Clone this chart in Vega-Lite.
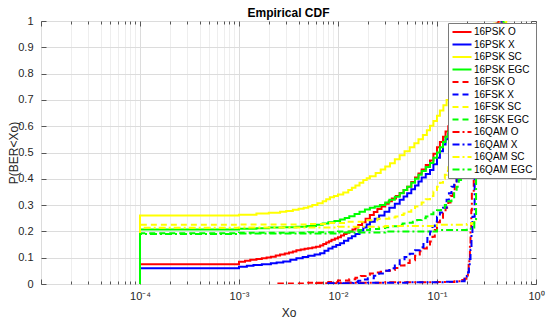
{
  "$schema": "https://vega.github.io/schema/vega-lite/v6.json",
  "width": 495,
  "height": 263,
  "autosize": {"type": "none"},
  "padding": {"left": 41, "top": 21, "right": 14, "bottom": 38},
  "background": "white",
  "title": {"text": "Empirical CDF", "fontSize": 12, "fontWeight": "bold", "font": "Liberation Sans", "color": "#000000", "offset": -5},
  "config": {
    "view": {"stroke": "#7a7a7a", "strokeWidth": 1},
    "font": "Liberation Sans",
    "legend": {
      "orient": "none", "legendX": 407, "legendY": 2,
      "fillColor": "white", "strokeColor": "#7a7a7a", "padding": 3,
      "symbolType": "M-1.9,0H1.9", "symbolSize": 100, "symbolStrokeWidth": 2, "symbolOffset": 5,
      "labelFontSize": 10, "labelFont": "Liberation Sans", "labelColor": "#000000",
      "rowPadding": 1.5, "labelOffset": 6, "titlePadding": 0
    }
  },
  "layer": [
    {
      "data": {"values": [
        {"s":"16PSK O","x":0.0001,"y":0},{"s":"16PSK O","x":0.0001,"y":0.075},{"s":"16PSK O","x":0.001,"y":0.085},{"s":"16PSK O","x":0.00115,"y":0.088},{"s":"16PSK O","x":0.0013,"y":0.092},{"s":"16PSK O","x":0.0015,"y":0.095},{"s":"16PSK O","x":0.0017,"y":0.098},{"s":"16PSK O","x":0.0019,"y":0.101},{"s":"16PSK O","x":0.0021,"y":0.104},{"s":"16PSK O","x":0.00235,"y":0.108},{"s":"16PSK O","x":0.0026,"y":0.112},{"s":"16PSK O","x":0.0029,"y":0.116},{"s":"16PSK O","x":0.0032,"y":0.12},{"s":"16PSK O","x":0.0035,"y":0.124},{"s":"16PSK O","x":0.0038,"y":0.128},{"s":"16PSK O","x":0.0042,"y":0.131},{"s":"16PSK O","x":0.0046,"y":0.134},{"s":"16PSK O","x":0.005,"y":0.136},{"s":"16PSK O","x":0.0055,"y":0.139},{"s":"16PSK O","x":0.006,"y":0.142},{"s":"16PSK O","x":0.0066,"y":0.146},{"s":"16PSK O","x":0.0071,"y":0.152},{"s":"16PSK O","x":0.0076,"y":0.158},{"s":"16PSK O","x":0.0081,"y":0.163},{"s":"16PSK O","x":0.0086,"y":0.168},{"s":"16PSK O","x":0.0093,"y":0.173},{"s":"16PSK O","x":0.01,"y":0.178},{"s":"16PSK O","x":0.0107,"y":0.184},{"s":"16PSK O","x":0.0115,"y":0.19},{"s":"16PSK O","x":0.0122,"y":0.195},{"s":"16PSK O","x":0.013,"y":0.2},{"s":"16PSK O","x":0.014,"y":0.207},{"s":"16PSK O","x":0.015,"y":0.215},{"s":"16PSK O","x":0.016,"y":0.224},{"s":"16PSK O","x":0.0175,"y":0.235},{"s":"16PSK O","x":0.019,"y":0.248},{"s":"16PSK O","x":0.021,"y":0.262},{"s":"16PSK O","x":0.023,"y":0.274},{"s":"16PSK O","x":0.025,"y":0.285},{"s":"16PSK O","x":0.0275,"y":0.295},{"s":"16PSK O","x":0.03,"y":0.305},{"s":"16PSK O","x":0.0325,"y":0.315},{"s":"16PSK O","x":0.035,"y":0.325},{"s":"16PSK O","x":0.0385,"y":0.335},{"s":"16PSK O","x":0.042,"y":0.346},{"s":"16PSK O","x":0.046,"y":0.357},{"s":"16PSK O","x":0.05,"y":0.37},{"s":"16PSK O","x":0.055,"y":0.388},{"s":"16PSK O","x":0.06,"y":0.405},{"s":"16PSK O","x":0.065,"y":0.42},{"s":"16PSK O","x":0.07,"y":0.435},{"s":"16PSK O","x":0.077,"y":0.452},{"s":"16PSK O","x":0.085,"y":0.47},{"s":"16PSK O","x":0.092,"y":0.495},{"s":"16PSK O","x":0.1,"y":0.52},{"s":"16PSK O","x":0.107,"y":0.54},{"s":"16PSK O","x":0.115,"y":0.56},{"s":"16PSK O","x":0.122,"y":0.58},{"s":"16PSK O","x":0.13,"y":0.6},{"s":"16PSK O","x":0.16,"y":0.69},{"s":"16PSK O","x":0.2,"y":0.79},{"s":"16PSK O","x":0.25,"y":0.88},{"s":"16PSK O","x":0.3,"y":0.94},{"s":"16PSK O","x":0.36,"y":0.98},{"s":"16PSK O","x":0.42,"y":1.0},

        {"s":"16PSK X","x":0.0001,"y":0},{"s":"16PSK X","x":0.0001,"y":0.06},{"s":"16PSK X","x":0.001,"y":0.066},{"s":"16PSK X","x":0.0012,"y":0.069},{"s":"16PSK X","x":0.0014,"y":0.072},{"s":"16PSK X","x":0.0017,"y":0.075},{"s":"16PSK X","x":0.0021,"y":0.079},{"s":"16PSK X","x":0.0024,"y":0.082},{"s":"16PSK X","x":0.0028,"y":0.086},{"s":"16PSK X","x":0.0033,"y":0.092},{"s":"16PSK X","x":0.0038,"y":0.098},{"s":"16PSK X","x":0.0044,"y":0.103},{"s":"16PSK X","x":0.005,"y":0.107},{"s":"16PSK X","x":0.0058,"y":0.112},{"s":"16PSK X","x":0.0066,"y":0.117},{"s":"16PSK X","x":0.0073,"y":0.126},{"s":"16PSK X","x":0.008,"y":0.135},{"s":"16PSK X","x":0.0088,"y":0.142},{"s":"16PSK X","x":0.0096,"y":0.148},{"s":"16PSK X","x":0.0105,"y":0.155},{"s":"16PSK X","x":0.0115,"y":0.164},{"s":"16PSK X","x":0.0127,"y":0.174},{"s":"16PSK X","x":0.0138,"y":0.182},{"s":"16PSK X","x":0.015,"y":0.19},{"s":"16PSK X","x":0.0165,"y":0.203},{"s":"16PSK X","x":0.018,"y":0.215},{"s":"16PSK X","x":0.0195,"y":0.226},{"s":"16PSK X","x":0.021,"y":0.237},{"s":"16PSK X","x":0.0235,"y":0.248},{"s":"16PSK X","x":0.026,"y":0.26},{"s":"16PSK X","x":0.0295,"y":0.275},{"s":"16PSK X","x":0.033,"y":0.29},{"s":"16PSK X","x":0.0375,"y":0.305},{"s":"16PSK X","x":0.042,"y":0.32},{"s":"16PSK X","x":0.046,"y":0.333},{"s":"16PSK X","x":0.05,"y":0.345},{"s":"16PSK X","x":0.055,"y":0.36},{"s":"16PSK X","x":0.06,"y":0.375},{"s":"16PSK X","x":0.065,"y":0.39},{"s":"16PSK X","x":0.07,"y":0.405},{"s":"16PSK X","x":0.077,"y":0.418},{"s":"16PSK X","x":0.085,"y":0.433},{"s":"16PSK X","x":0.092,"y":0.455},{"s":"16PSK X","x":0.1,"y":0.48},{"s":"16PSK X","x":0.107,"y":0.505},{"s":"16PSK X","x":0.115,"y":0.53},{"s":"16PSK X","x":0.122,"y":0.55},{"s":"16PSK X","x":0.13,"y":0.57},{"s":"16PSK X","x":0.16,"y":0.66},{"s":"16PSK X","x":0.2,"y":0.77},{"s":"16PSK X","x":0.25,"y":0.87},{"s":"16PSK X","x":0.3,"y":0.93},{"s":"16PSK X","x":0.36,"y":0.97},{"s":"16PSK X","x":0.45,"y":1.0},

        {"s":"16PSK SC","x":0.0001,"y":0},{"s":"16PSK SC","x":0.0001,"y":0.26},{"s":"16PSK SC","x":0.001,"y":0.263},{"s":"16PSK SC","x":0.0015,"y":0.268},{"s":"16PSK SC","x":0.002,"y":0.271},{"s":"16PSK SC","x":0.0026,"y":0.275},{"s":"16PSK SC","x":0.003,"y":0.278},{"s":"16PSK SC","x":0.0035,"y":0.282},{"s":"16PSK SC","x":0.004,"y":0.286},{"s":"16PSK SC","x":0.0045,"y":0.29},{"s":"16PSK SC","x":0.005,"y":0.295},{"s":"16PSK SC","x":0.0055,"y":0.3},{"s":"16PSK SC","x":0.0062,"y":0.307},{"s":"16PSK SC","x":0.007,"y":0.315},{"s":"16PSK SC","x":0.0076,"y":0.322},{"s":"16PSK SC","x":0.0083,"y":0.33},{"s":"16PSK SC","x":0.0091,"y":0.335},{"s":"16PSK SC","x":0.01,"y":0.34},{"s":"16PSK SC","x":0.0113,"y":0.348},{"s":"16PSK SC","x":0.0127,"y":0.357},{"s":"16PSK SC","x":0.0138,"y":0.366},{"s":"16PSK SC","x":0.015,"y":0.375},{"s":"16PSK SC","x":0.0165,"y":0.385},{"s":"16PSK SC","x":0.018,"y":0.395},{"s":"16PSK SC","x":0.0195,"y":0.402},{"s":"16PSK SC","x":0.021,"y":0.41},{"s":"16PSK SC","x":0.024,"y":0.422},{"s":"16PSK SC","x":0.027,"y":0.435},{"s":"16PSK SC","x":0.03,"y":0.447},{"s":"16PSK SC","x":0.0335,"y":0.459},{"s":"16PSK SC","x":0.0375,"y":0.474},{"s":"16PSK SC","x":0.042,"y":0.49},{"s":"16PSK SC","x":0.047,"y":0.505},{"s":"16PSK SC","x":0.053,"y":0.52},{"s":"16PSK SC","x":0.059,"y":0.535},{"s":"16PSK SC","x":0.065,"y":0.55},{"s":"16PSK SC","x":0.072,"y":0.567},{"s":"16PSK SC","x":0.079,"y":0.585},{"s":"16PSK SC","x":0.085,"y":0.602},{"s":"16PSK SC","x":0.092,"y":0.62},{"s":"16PSK SC","x":0.1,"y":0.64},{"s":"16PSK SC","x":0.107,"y":0.66},{"s":"16PSK SC","x":0.116,"y":0.68},{"s":"16PSK SC","x":0.125,"y":0.7},{"s":"16PSK SC","x":0.135,"y":0.72},{"s":"16PSK SC","x":0.15,"y":0.76},{"s":"16PSK SC","x":0.19,"y":0.84},{"s":"16PSK SC","x":0.24,"y":0.91},{"s":"16PSK SC","x":0.3,"y":0.96},{"s":"16PSK SC","x":0.38,"y":0.99},{"s":"16PSK SC","x":0.5,"y":1.0},

        {"s":"16PSK EGC","x":0.0001,"y":0},{"s":"16PSK EGC","x":0.0001,"y":0.207},{"s":"16PSK EGC","x":0.001,"y":0.21},{"s":"16PSK EGC","x":0.0015,"y":0.212},{"s":"16PSK EGC","x":0.002,"y":0.215},{"s":"16PSK EGC","x":0.0028,"y":0.216},{"s":"16PSK EGC","x":0.0038,"y":0.218},{"s":"16PSK EGC","x":0.0048,"y":0.221},{"s":"16PSK EGC","x":0.006,"y":0.225},{"s":"16PSK EGC","x":0.007,"y":0.23},{"s":"16PSK EGC","x":0.008,"y":0.235},{"s":"16PSK EGC","x":0.0092,"y":0.24},{"s":"16PSK EGC","x":0.0105,"y":0.245},{"s":"16PSK EGC","x":0.0117,"y":0.251},{"s":"16PSK EGC","x":0.013,"y":0.258},{"s":"16PSK EGC","x":0.0147,"y":0.266},{"s":"16PSK EGC","x":0.0165,"y":0.275},{"s":"16PSK EGC","x":0.0187,"y":0.283},{"s":"16PSK EGC","x":0.021,"y":0.29},{"s":"16PSK EGC","x":0.0235,"y":0.295},{"s":"16PSK EGC","x":0.0265,"y":0.3},{"s":"16PSK EGC","x":0.03,"y":0.31},{"s":"16PSK EGC","x":0.033,"y":0.32},{"s":"16PSK EGC","x":0.0375,"y":0.332},{"s":"16PSK EGC","x":0.042,"y":0.345},{"s":"16PSK EGC","x":0.046,"y":0.357},{"s":"16PSK EGC","x":0.05,"y":0.37},{"s":"16PSK EGC","x":0.055,"y":0.385},{"s":"16PSK EGC","x":0.06,"y":0.4},{"s":"16PSK EGC","x":0.065,"y":0.415},{"s":"16PSK EGC","x":0.07,"y":0.43},{"s":"16PSK EGC","x":0.077,"y":0.445},{"s":"16PSK EGC","x":0.085,"y":0.46},{"s":"16PSK EGC","x":0.092,"y":0.48},{"s":"16PSK EGC","x":0.1,"y":0.5},{"s":"16PSK EGC","x":0.107,"y":0.52},{"s":"16PSK EGC","x":0.115,"y":0.54},{"s":"16PSK EGC","x":0.122,"y":0.56},{"s":"16PSK EGC","x":0.13,"y":0.58},{"s":"16PSK EGC","x":0.16,"y":0.67},{"s":"16PSK EGC","x":0.2,"y":0.78},{"s":"16PSK EGC","x":0.25,"y":0.88},{"s":"16PSK EGC","x":0.3,"y":0.94},{"s":"16PSK EGC","x":0.37,"y":0.98},{"s":"16PSK EGC","x":0.47,"y":1.0},

        {"s":"16FSK O","x":0.0025,"y":0},{"s":"16FSK O","x":0.0025,"y":0.002},{"s":"16FSK O","x":0.005,"y":0.005},{"s":"16FSK O","x":0.008,"y":0.008},{"s":"16FSK O","x":0.01,"y":0.013},{"s":"16FSK O","x":0.013,"y":0.018},{"s":"16FSK O","x":0.015,"y":0.024},{"s":"16FSK O","x":0.017,"y":0.03},{"s":"16FSK O","x":0.019,"y":0.035},{"s":"16FSK O","x":0.021,"y":0.04},{"s":"16FSK O","x":0.024,"y":0.044},{"s":"16FSK O","x":0.027,"y":0.047},{"s":"16FSK O","x":0.03,"y":0.05},{"s":"16FSK O","x":0.0335,"y":0.053},{"s":"16FSK O","x":0.0375,"y":0.061},{"s":"16FSK O","x":0.042,"y":0.07},{"s":"16FSK O","x":0.047,"y":0.08},{"s":"16FSK O","x":0.053,"y":0.09},{"s":"16FSK O","x":0.06,"y":0.107},{"s":"16FSK O","x":0.067,"y":0.125},{"s":"16FSK O","x":0.073,"y":0.135},{"s":"16FSK O","x":0.079,"y":0.145},{"s":"16FSK O","x":0.085,"y":0.162},{"s":"16FSK O","x":0.09,"y":0.18},{"s":"16FSK O","x":0.095,"y":0.205},{"s":"16FSK O","x":0.1,"y":0.235},{"s":"16FSK O","x":0.107,"y":0.252},{"s":"16FSK O","x":0.115,"y":0.27},{"s":"16FSK O","x":0.122,"y":0.29},{"s":"16FSK O","x":0.13,"y":0.31},{"s":"16FSK O","x":0.137,"y":0.335},{"s":"16FSK O","x":0.145,"y":0.36},{"s":"16FSK O","x":0.151,"y":0.38},{"s":"16FSK O","x":0.158,"y":0.4},{"s":"16FSK O","x":0.167,"y":0.43},{"s":"16FSK O","x":0.178,"y":0.46},{"s":"16FSK O","x":0.2,"y":0.54},{"s":"16FSK O","x":0.23,"y":0.65},{"s":"16FSK O","x":0.27,"y":0.78},{"s":"16FSK O","x":0.32,"y":0.9},{"s":"16FSK O","x":0.38,"y":0.97},{"s":"16FSK O","x":0.45,"y":1.0},

        {"s":"16FSK X","x":0.008,"y":0},{"s":"16FSK X","x":0.008,"y":0.002},{"s":"16FSK X","x":0.012,"y":0.005},{"s":"16FSK X","x":0.014,"y":0.008},{"s":"16FSK X","x":0.016,"y":0.012},{"s":"16FSK X","x":0.018,"y":0.017},{"s":"16FSK X","x":0.02,"y":0.022},{"s":"16FSK X","x":0.023,"y":0.031},{"s":"16FSK X","x":0.026,"y":0.04},{"s":"16FSK X","x":0.0295,"y":0.05},{"s":"16FSK X","x":0.033,"y":0.06},{"s":"16FSK X","x":0.0375,"y":0.075},{"s":"16FSK X","x":0.042,"y":0.09},{"s":"16FSK X","x":0.047,"y":0.103},{"s":"16FSK X","x":0.053,"y":0.115},{"s":"16FSK X","x":0.06,"y":0.128},{"s":"16FSK X","x":0.067,"y":0.14},{"s":"16FSK X","x":0.073,"y":0.16},{"s":"16FSK X","x":0.08,"y":0.18},{"s":"16FSK X","x":0.085,"y":0.2},{"s":"16FSK X","x":0.09,"y":0.22},{"s":"16FSK X","x":0.095,"y":0.238},{"s":"16FSK X","x":0.1,"y":0.256},{"s":"16FSK X","x":0.107,"y":0.272},{"s":"16FSK X","x":0.115,"y":0.29},{"s":"16FSK X","x":0.125,"y":0.32},{"s":"16FSK X","x":0.132,"y":0.345},{"s":"16FSK X","x":0.14,"y":0.37},{"s":"16FSK X","x":0.149,"y":0.39},{"s":"16FSK X","x":0.158,"y":0.41},{"s":"16FSK X","x":0.168,"y":0.44},{"s":"16FSK X","x":0.18,"y":0.47},{"s":"16FSK X","x":0.2,"y":0.54},{"s":"16FSK X","x":0.23,"y":0.64},{"s":"16FSK X","x":0.27,"y":0.77},{"s":"16FSK X","x":0.32,"y":0.89},{"s":"16FSK X","x":0.38,"y":0.97},{"s":"16FSK X","x":0.45,"y":1.0},

        {"s":"16FSK SC","x":0.0001,"y":0},{"s":"16FSK SC","x":0.0001,"y":0.225},{"s":"16FSK SC","x":0.001,"y":0.226},{"s":"16FSK SC","x":0.005,"y":0.228},{"s":"16FSK SC","x":0.008,"y":0.232},{"s":"16FSK SC","x":0.012,"y":0.237},{"s":"16FSK SC","x":0.018,"y":0.242},{"s":"16FSK SC","x":0.025,"y":0.248},{"s":"16FSK SC","x":0.033,"y":0.253},{"s":"16FSK SC","x":0.038,"y":0.257},{"s":"16FSK SC","x":0.042,"y":0.262},{"s":"16FSK SC","x":0.046,"y":0.268},{"s":"16FSK SC","x":0.05,"y":0.275},{"s":"16FSK SC","x":0.055,"y":0.285},{"s":"16FSK SC","x":0.06,"y":0.295},{"s":"16FSK SC","x":0.065,"y":0.302},{"s":"16FSK SC","x":0.07,"y":0.31},{"s":"16FSK SC","x":0.077,"y":0.322},{"s":"16FSK SC","x":0.085,"y":0.335},{"s":"16FSK SC","x":0.092,"y":0.352},{"s":"16FSK SC","x":0.1,"y":0.37},{"s":"16FSK SC","x":0.107,"y":0.385},{"s":"16FSK SC","x":0.115,"y":0.4},{"s":"16FSK SC","x":0.12,"y":0.415},{"s":"16FSK SC","x":0.125,"y":0.43},{"s":"16FSK SC","x":0.13,"y":0.45},{"s":"16FSK SC","x":0.135,"y":0.47},{"s":"16FSK SC","x":0.16,"y":0.58},{"s":"16FSK SC","x":0.2,"y":0.72},{"s":"16FSK SC","x":0.25,"y":0.86},{"s":"16FSK SC","x":0.3,"y":0.94},{"s":"16FSK SC","x":0.38,"y":0.99},{"s":"16FSK SC","x":0.48,"y":1.0},

        {"s":"16FSK EGC","x":0.0001,"y":0},{"s":"16FSK EGC","x":0.0001,"y":0.193},{"s":"16FSK EGC","x":0.001,"y":0.195},{"s":"16FSK EGC","x":0.005,"y":0.197},{"s":"16FSK EGC","x":0.01,"y":0.2},{"s":"16FSK EGC","x":0.016,"y":0.205},{"s":"16FSK EGC","x":0.021,"y":0.209},{"s":"16FSK EGC","x":0.026,"y":0.213},{"s":"16FSK EGC","x":0.03,"y":0.216},{"s":"16FSK EGC","x":0.035,"y":0.22},{"s":"16FSK EGC","x":0.04,"y":0.225},{"s":"16FSK EGC","x":0.045,"y":0.23},{"s":"16FSK EGC","x":0.051,"y":0.233},{"s":"16FSK EGC","x":0.057,"y":0.237},{"s":"16FSK EGC","x":0.063,"y":0.243},{"s":"16FSK EGC","x":0.07,"y":0.25},{"s":"16FSK EGC","x":0.077,"y":0.257},{"s":"16FSK EGC","x":0.085,"y":0.265},{"s":"16FSK EGC","x":0.092,"y":0.272},{"s":"16FSK EGC","x":0.1,"y":0.28},{"s":"16FSK EGC","x":0.11,"y":0.29},{"s":"16FSK EGC","x":0.12,"y":0.3},{"s":"16FSK EGC","x":0.13,"y":0.315},{"s":"16FSK EGC","x":0.14,"y":0.33},{"s":"16FSK EGC","x":0.149,"y":0.35},{"s":"16FSK EGC","x":0.158,"y":0.37},{"s":"16FSK EGC","x":0.166,"y":0.395},{"s":"16FSK EGC","x":0.175,"y":0.42},{"s":"16FSK EGC","x":0.182,"y":0.45},{"s":"16FSK EGC","x":0.19,"y":0.48},{"s":"16FSK EGC","x":0.21,"y":0.56},{"s":"16FSK EGC","x":0.24,"y":0.66},{"s":"16FSK EGC","x":0.28,"y":0.8},{"s":"16FSK EGC","x":0.33,"y":0.91},{"s":"16FSK EGC","x":0.4,"y":0.98},{"s":"16FSK EGC","x":0.48,"y":1.0},

        {"s":"16QAM O","x":0.006,"y":0},{"s":"16QAM O","x":0.006,"y":0.003},{"s":"16QAM O","x":0.01,"y":0.005},{"s":"16QAM O","x":0.03,"y":0.007},{"s":"16QAM O","x":0.1,"y":0.008},{"s":"16QAM O","x":0.15,"y":0.01},{"s":"16QAM O","x":0.18,"y":0.015},{"s":"16QAM O","x":0.19,"y":0.02},{"s":"16QAM O","x":0.198,"y":0.032},{"s":"16QAM O","x":0.205,"y":0.05},{"s":"16QAM O","x":0.209,"y":0.072},{"s":"16QAM O","x":0.212,"y":0.1},{"s":"16QAM O","x":0.215,"y":0.145},{"s":"16QAM O","x":0.218,"y":0.2},{"s":"16QAM O","x":0.222,"y":0.28},{"s":"16QAM O","x":0.225,"y":0.35},{"s":"16QAM O","x":0.235,"y":0.6},{"s":"16QAM O","x":0.27,"y":0.78},{"s":"16QAM O","x":0.3,"y":0.9},{"s":"16QAM O","x":0.34,"y":0.97},{"s":"16QAM O","x":0.4,"y":1.0},

        {"s":"16QAM X","x":0.008,"y":0},{"s":"16QAM X","x":0.008,"y":0.003},{"s":"16QAM X","x":0.02,"y":0.005},{"s":"16QAM X","x":0.05,"y":0.007},{"s":"16QAM X","x":0.12,"y":0.009},{"s":"16QAM X","x":0.16,"y":0.01},{"s":"16QAM X","x":0.19,"y":0.02},{"s":"16QAM X","x":0.2,"y":0.03},{"s":"16QAM X","x":0.206,"y":0.045},{"s":"16QAM X","x":0.21,"y":0.066},{"s":"16QAM X","x":0.214,"y":0.095},{"s":"16QAM X","x":0.218,"y":0.13},{"s":"16QAM X","x":0.223,"y":0.19},{"s":"16QAM X","x":0.228,"y":0.256},{"s":"16QAM X","x":0.24,"y":0.6},{"s":"16QAM X","x":0.27,"y":0.75},{"s":"16QAM X","x":0.3,"y":0.88},{"s":"16QAM X","x":0.35,"y":0.96},{"s":"16QAM X","x":0.43,"y":1.0},

        {"s":"16QAM SC","x":0.0001,"y":0},{"s":"16QAM SC","x":0.0001,"y":0.214},{"s":"16QAM SC","x":0.001,"y":0.215},{"s":"16QAM SC","x":0.01,"y":0.218},{"s":"16QAM SC","x":0.03,"y":0.221},{"s":"16QAM SC","x":0.1,"y":0.225},{"s":"16QAM SC","x":0.2,"y":0.228},{"s":"16QAM SC","x":0.225,"y":0.232},{"s":"16QAM SC","x":0.238,"y":0.245},{"s":"16QAM SC","x":0.248,"y":0.6},{"s":"16QAM SC","x":0.27,"y":0.78},{"s":"16QAM SC","x":0.3,"y":0.9},{"s":"16QAM SC","x":0.36,"y":0.97},{"s":"16QAM SC","x":0.45,"y":1.0},

        {"s":"16QAM EGC","x":0.0001,"y":0},{"s":"16QAM EGC","x":0.0001,"y":0.19},{"s":"16QAM EGC","x":0.001,"y":0.192},{"s":"16QAM EGC","x":0.01,"y":0.196},{"s":"16QAM EGC","x":0.03,"y":0.2},{"s":"16QAM EGC","x":0.1,"y":0.205},{"s":"16QAM EGC","x":0.2,"y":0.21},{"s":"16QAM EGC","x":0.225,"y":0.215},{"s":"16QAM EGC","x":0.238,"y":0.235},{"s":"16QAM EGC","x":0.248,"y":0.6},{"s":"16QAM EGC","x":0.27,"y":0.78},{"s":"16QAM EGC","x":0.3,"y":0.9},{"s":"16QAM EGC","x":0.36,"y":0.97},{"s":"16QAM EGC","x":0.46,"y":1.0}
      ]},
      "mark": {"type": "line", "interpolate": "step-after", "strokeWidth": 2, "clip": true},
      "encoding": {
        "x": {
          "field": "x", "type": "quantitative",
          "scale": {"type": "log", "domain": [0.00001, 1], "nice": false},
          "axis": {
            "orient": "bottom",
            "values": [0.00001,0.00002,0.00003,0.00004,0.00005,0.00006,0.00007,0.00008,0.00009,0.0001,0.0002,0.0003,0.0004,0.0005,0.0006,0.0007,0.0008,0.0009,0.001,0.002,0.003,0.004,0.005,0.006,0.007,0.008,0.009,0.01,0.02,0.03,0.04,0.05,0.06,0.07,0.08,0.09,0.1,0.2,0.3,0.4,0.5,0.6,0.7,0.8,0.9,1],
            "labelExpr": "abs(log(datum.value)/LN10 - round(log(datum.value)/LN10)) < 0.01 && datum.value > 0.00005 ? '10' + ['⁰','⁻¹','⁻²','⁻³','⁻⁴'][round(-log(datum.value)/LN10)] : ''",
            "grid": true,
            "gridColor": {"condition": {"test": "abs(log(datum.value)/LN10 - round(log(datum.value)/LN10)) < 0.01", "value": "#dcdcdc"}, "value": "#eeeeee"},
            "domain": false,
            "ticks": true,
            "tickColor": "#555555",
            "tickSize": {"condition": {"test": "abs(log(datum.value)/LN10 - round(log(datum.value)/LN10)) < 0.01", "value": -5}, "value": -3},
            "labelPadding": 11,
            "labelFontSize": 11,
            "labelFont": "Liberation Sans",
            "labelColor": "#262626",
            "labelFlush": false,
            "labelOverlap": false,
            "title": "Xo",
            "titleFontSize": 12,
            "titleFontWeight": "normal",
            "titleFont": "Liberation Sans",
            "titleColor": "#262626",
            "titlePadding": 4
          }
        },
        "y": {
          "field": "y", "type": "quantitative",
          "scale": {"domain": [0, 1], "nice": false},
          "axis": {
            "orient": "left",
            "values": [0, 0.1, 0.2, 0.3, 0.4, 0.5, 0.6, 0.7, 0.8, 0.9, 1],
            "format": "~g",
            "grid": true,
            "gridColor": "#dcdcdc",
            "domain": false,
            "tickColor": "#555555",
            "tickSize": -5,
            "labelPadding": 13,
            "labelFontSize": 11,
            "labelFont": "Liberation Sans",
            "labelColor": "#262626",
            "labelFlush": false,
            "title": "P(BER<Xo)",
            "titleFontSize": 12,
            "titleFontWeight": "normal",
            "titleFont": "Liberation Sans",
            "titleColor": "#262626",
            "titleAngle": 270,
            "titleAlign": "center",
            "titleBaseline": "bottom",
            "titleX": -21,
            "titleY": 131.5
          }
        },
        "color": {
          "field": "s", "type": "nominal",
          "scale": {
            "domain": ["16PSK O","16PSK X","16PSK SC","16PSK EGC","16FSK O","16FSK X","16FSK SC","16FSK EGC","16QAM O","16QAM X","16QAM SC","16QAM EGC"],
            "range": ["#ff0000","#0000ff","#ffff00","#00ff00","#ff0000","#0000ff","#ffff00","#00ff00","#ff0000","#0000ff","#ffff00","#00ff00"]
          },
          "legend": {"title": null, "orient": "none", "legendX": 407, "legendY": 2}
        },
        "strokeDash": {
          "field": "s", "type": "nominal",
          "scale": {
            "domain": ["16PSK O","16PSK X","16PSK SC","16PSK EGC","16FSK O","16FSK X","16FSK SC","16FSK EGC","16QAM O","16QAM X","16QAM SC","16QAM EGC"],
            "range": [[1,0],[1,0],[1,0],[1,0],[6,4],[6,4],[6,4],[6,4],[7,3,2,3],[7,3,2,3],[7,3,2,3],[7,3,2,3]]
          },
          "legend": {"title": null, "orient": "none", "legendX": 407, "legendY": 2}
        }
      }
    },
    {
      "data": {"values": [{"x": 0.001, "y": 0.5}]},
      "mark": {"type": "point", "opacity": 0},
      "encoding": {
        "x": {
          "field": "x", "type": "quantitative",
          "axis": {
            "orient": "top",
            "values": [0.00001,0.00002,0.00003,0.00004,0.00005,0.00006,0.00007,0.00008,0.00009,0.0001,0.0002,0.0003,0.0004,0.0005,0.0006,0.0007,0.0008,0.0009,0.001,0.002,0.003,0.004,0.005,0.006,0.007,0.008,0.009,0.01,0.02,0.03,0.04,0.05,0.06,0.07,0.08,0.09,0.1,0.2,0.3,0.4,0.5,0.6,0.7,0.8,0.9,1],
            "labels": false, "grid": false, "domain": false, "title": null,
            "tickColor": "#555555",
            "tickSize": {"condition": {"test": "abs(log(datum.value)/LN10 - round(log(datum.value)/LN10)) < 0.01", "value": -5}, "value": -3}
          }
        },
        "y": {
          "field": "y", "type": "quantitative",
          "axis": {
            "orient": "right",
            "values": [0, 0.1, 0.2, 0.3, 0.4, 0.5, 0.6, 0.7, 0.8, 0.9, 1],
            "labels": false, "grid": false, "domain": false, "title": null,
            "tickColor": "#555555", "tickSize": -5
          }
        }
      }
    }
  ],
  "resolve": {"axis": {"x": "independent", "y": "independent"}}
}
